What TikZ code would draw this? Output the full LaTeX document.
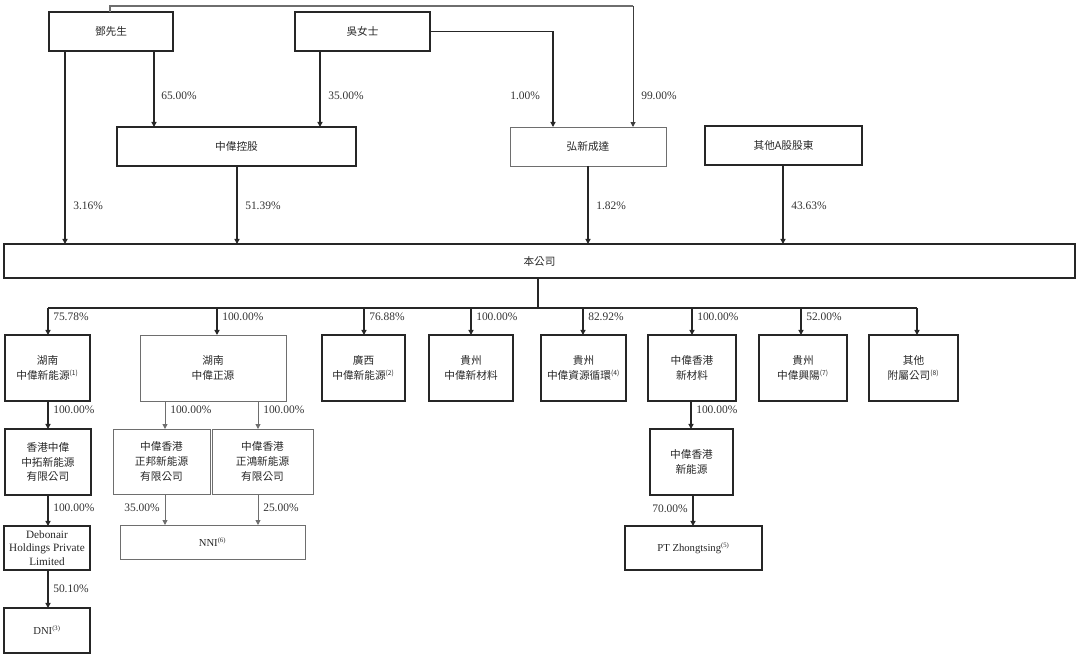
\documentclass[tikz,border=0pt]{standalone}
\usepackage{fontspec}
\setmainfont{Liberation Serif}
\newfontfamily\cjk{Noto Sans CJK TC}
\usetikzlibrary{arrows.meta}
\newcommand{\mkbox}[7]{\node[#6, minimum width={(#4-#2)*0.75pt}, minimum height={(#5-#3)*0.75pt}] (#1) at ({(#2+#4)/2},{(#3+#5)/2}) {#7};}
\newcommand{\fn}[1]{\textsuperscript{\fontsize{5}{5}\selectfont(#1)}}
\definecolor{dk}{HTML}{262626}
\definecolor{lt}{HTML}{6E6E6E}
\tikzset{
  box/.style={draw=dk, line width=1.3pt, inner sep=0pt, outer sep=0pt, align=center, font=\fontsize{8}{11.2}\selectfont\cjk, text=black!85},
  lbox/.style={draw=lt, line width=0.7pt, inner sep=0pt, outer sep=0pt, align=center, font=\fontsize{8}{11.2}\selectfont\cjk, text=black!85},
  arr/.style={draw=dk, line width=1.1pt, -{Triangle[width=3.8pt,length=3.8pt]}},
  larr/.style={draw=lt, line width=0.7pt, -{Triangle[width=3.6pt,length=3.6pt]}},
  ln/.style={draw=dk, line width=1.1pt},
  pct/.style={anchor=west, inner sep=0pt, font=\fontsize{8.6}{10}\selectfont, text=black!80}
}
\begin{document}
\begin{tikzpicture}[x=0.75pt,y=-0.75pt]
\useasboundingbox (0,0) rectangle (1080,659);
% top row
\mkbox{deng}{49}{12}{173}{51}{box}{鄧先生}
\mkbox{wu}{295}{12}{430}{51}{box}{吳女士}
\mkbox{zwkg}{117}{127}{356}{166}{box}{中偉控股}
\mkbox{hx}{510}{127}{666}{166}{lbox}{弘新成達}
\mkbox{qt}{705}{126}{862}{165}{box}{其他A股股東}
\mkbox{bgs}{4}{244}{1075}{278}{box}{本公司}
\coordinate (topR) at (633,6);
\coordinate (topL) at (110,6);
\draw[ln, line width=0.8pt, draw=lt] (deng.north -| topL) -- (topL) -- (topR);
\draw[larr, draw=dk!90] (topR) -- (hx.north -| topR);
\coordinate (wuR) at (553,31.5);
\draw[arr] (wu.east) -- (wuR) -- (hx.north -| wuR);
\draw[arr] (deng.south -| 154,0) -- (zwkg.north -| 154,0);
\draw[arr] (wu.south -| 320,0) -- (zwkg.north -| 320,0);
\draw[arr] (deng.south -| 65,0) -- (bgs.north -| 65,0);
\draw[arr] (zwkg.south -| 237,0) -- (bgs.north -| 237,0);
\draw[arr] (hx.south -| 588,0) -- (bgs.north -| 588,0);
\draw[arr] (qt.south -| 783,0) -- (bgs.north -| 783,0);
\node[pct] (p65) at (161,96) {65.00\%};
\node[pct] (p35) at (328,96) {35.00\%};
\node[pct] (p1) at (510,96) {1.00\%};
\node[pct] (p99) at (641,96) {99.00\%};
\node[pct] (p316) at (73,206) {3.16\%};
\node[pct] (p5139) at (245,206) {51.39\%};
\node[pct] (p182) at (596,206) {1.82\%};
\node[pct] (p4363) at (791,206) {43.63\%};
% subsidiaries
\mkbox{hn}{5}{335}{90}{401}{box}{湖南\\中偉新能源\fn{1}}
\mkbox{hnzy}{140}{335}{286}{401}{lbox}{湖南\\中偉正源}
\mkbox{gx}{322}{335}{405}{401}{box}{廣西\\中偉新能源\fn{2}}
\mkbox{gzxcl}{429}{335}{513}{401}{box}{貴州\\中偉新材料}
\mkbox{gzzy}{541}{335}{626}{401}{box}{貴州\\中偉資源循環\fn{4}}
\mkbox{hkxcl}{648}{335}{736}{401}{box}{中偉香港\\新材料}
\mkbox{gzxy}{759}{335}{847}{401}{box}{貴州\\中偉興陽\fn{7}}
\mkbox{qtfs}{869}{335}{958}{401}{box}{其他\\附屬公司\fn{8}}
\coordinate (hub) at (538,308);
\coordinate (busL) at (48,308);
\coordinate (busR) at (917,308);
\draw[ln] (bgs.south -| hub) -- (hub);
\draw[ln] (busL) -- (busR);
\draw[arr] (busL) -- (hn.north -| busL);
\draw[arr] (217,308) -- (hnzy.north -| 217,0);
\draw[arr] (364,308) -- (gx.north -| 364,0);
\draw[arr] (471,308) -- (gzxcl.north -| 471,0);
\draw[arr] (583,308) -- (gzzy.north -| 583,0);
\draw[arr] (692,308) -- (hkxcl.north -| 692,0);
\draw[arr] (801,308) -- (gzxy.north -| 801,0);
\draw[arr] (busR) -- (qtfs.north -| busR);
\node[pct] (q1) at (53,317) {75.78\%};
\node[pct] (q2) at (222,317) {100.00\%};
\node[pct] (q3) at (369,317) {76.88\%};
\node[pct] (q4) at (476,317) {100.00\%};
\node[pct] (q5) at (588,317) {82.92\%};
\node[pct] (q6) at (697,317) {100.00\%};
\node[pct] (q7) at (806,317) {52.00\%};
% second level
\mkbox{hkzt}{5}{429}{91}{495}{box}{香港中偉\\中拓新能源\\有限公司}
\mkbox{zb}{113}{429}{210}{494}{lbox}{中偉香港\\正邦新能源\\有限公司}
\mkbox{zh}{212}{429}{313}{494}{lbox}{中偉香港\\正鴻新能源\\有限公司}
\mkbox{hkxny}{650}{429}{733}{495}{box}{中偉香港\\新能源}
\draw[arr] (hn.south -| 48,0) -- (hkzt.north -| 48,0);
\draw[larr] (hnzy.south -| 165,0) -- (zb.north -| 165,0);
\draw[larr] (hnzy.south -| 258,0) -- (zh.north -| 258,0);
\draw[arr] (hkxcl.south -| 691,0) -- (hkxny.north -| 691,0);
\node[pct] (r1) at (53,410) {100.00\%};
\node[pct] (r2) at (170,410) {100.00\%};
\node[pct] (r3) at (263,410) {100.00\%};
\node[pct] (r4) at (696,410) {100.00\%};
% third level
\mkbox{deb}{4}{526}{90}{570}{box, font=\fontsize{8.4}{10.3}\selectfont\rmfamily}{Debonair\\Holdings Private\\Limited}
\mkbox{nni}{120}{525}{305}{559}{lbox}{\rmfamily NNI\fn{6}}
\mkbox{ptz}{625}{526}{762}{570}{box}{\rmfamily PT Zhongtsing\fn{5}}
\mkbox{dni}{4}{608}{90}{653}{box}{\rmfamily DNI\fn{3}}
\draw[arr] (hkzt.south -| 48,0) -- (deb.north -| 48,0);
\draw[larr] (zb.south -| 165,0) -- (nni.north -| 165,0);
\draw[larr] (zh.south -| 258,0) -- (nni.north -| 258,0);
\draw[arr] (hkxny.south -| 693,0) -- (ptz.north -| 693,0);
\draw[arr] (deb.south -| 48,0) -- (dni.north -| 48,0);
\node[pct] (s1) at (53,508) {100.00\%};
\node[pct, anchor=east] (s2) at (160,508) {35.00\%};
\node[pct] (s3) at (263,508) {25.00\%};
\node[pct, anchor=east] (s4) at (688,509) {70.00\%};
\node[pct] (s5) at (53,589) {50.10\%};
\end{tikzpicture}
\end{document}
